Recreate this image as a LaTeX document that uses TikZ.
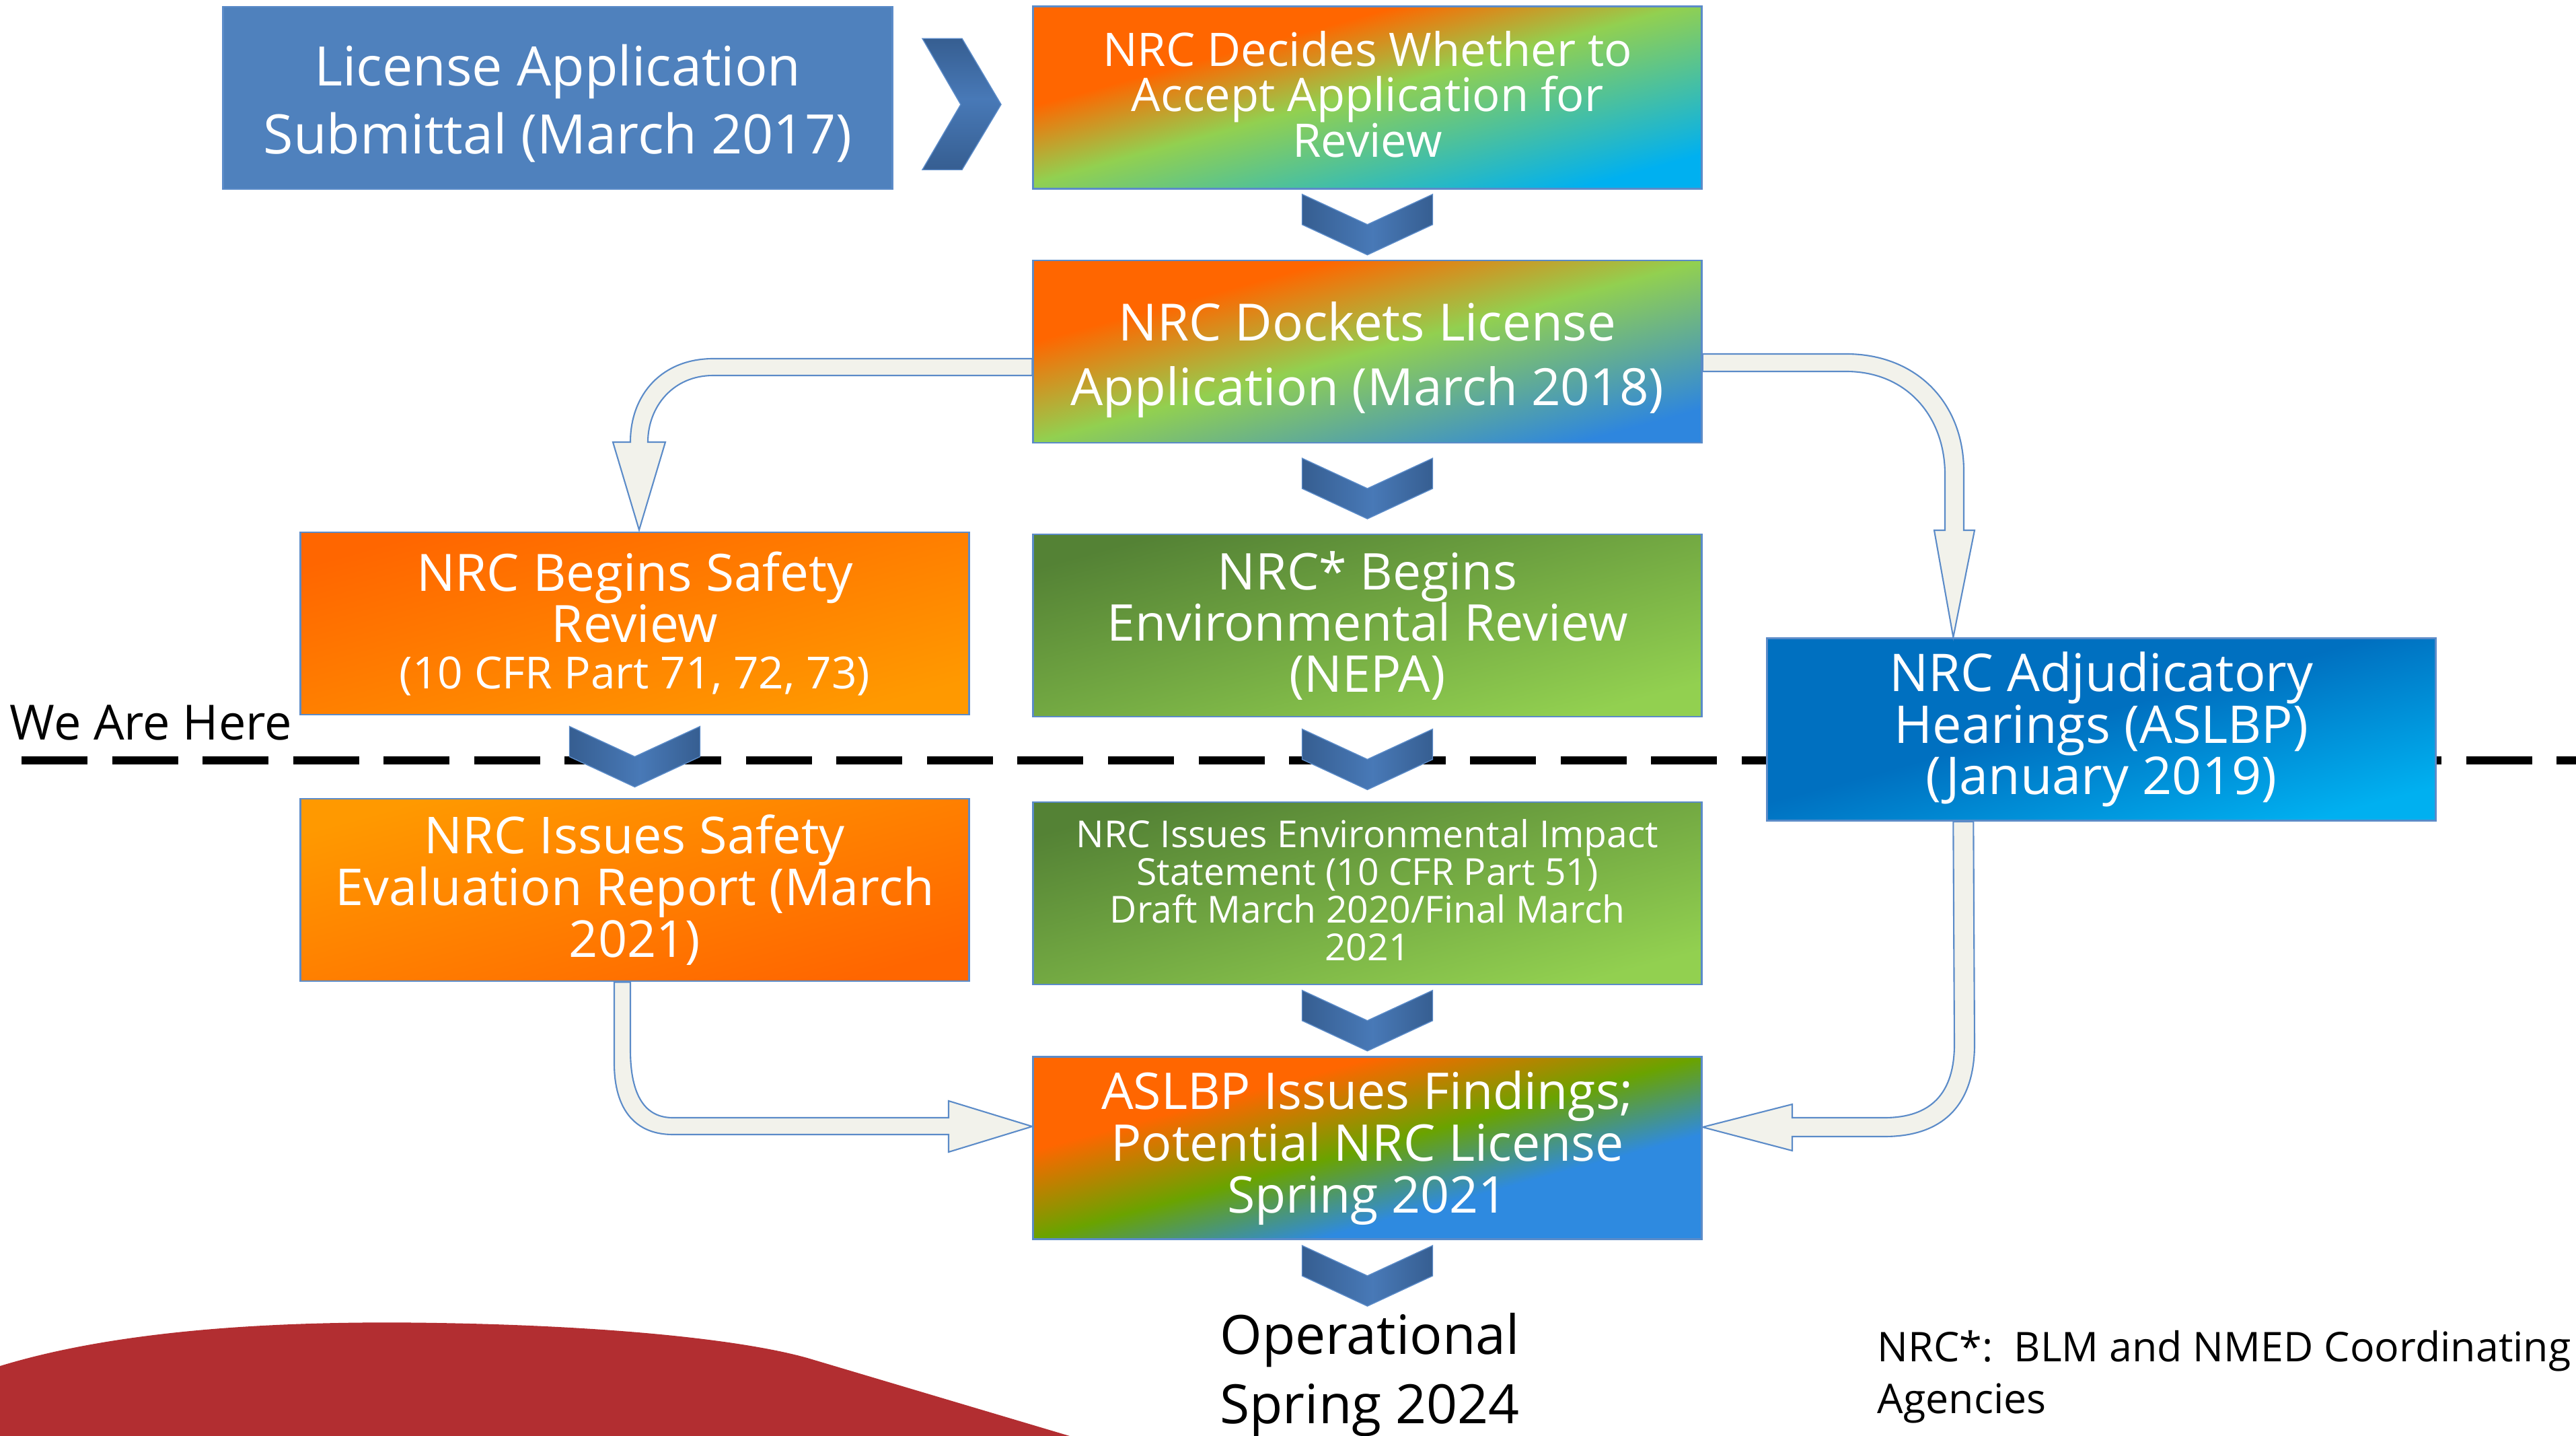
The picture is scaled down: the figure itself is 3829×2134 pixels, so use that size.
\documentclass[tikz,border=0pt]{standalone}
\usepackage{fontspec}
\setmainfont{Open Sans}
\usepackage{tikz}
\usetikzlibrary{calc}

\definecolor{boxblue}{HTML}{4F81BD}
\definecolor{edgeblue}{HTML}{5B8BC8}
\definecolor{arrowfill}{HTML}{F2F2EB}
\definecolor{hotorange}{HTML}{FF6600}
\definecolor{amber}{HTML}{FF9900}
\definecolor{limegreen}{HTML}{92D050}
\definecolor{skycyan}{HTML}{00B0F0}
\definecolor{docblue}{HTML}{2E86DE}
\definecolor{leafgreen}{HTML}{6AA300}
\definecolor{findblue}{HTML}{2E8AE0}
\definecolor{mossgreen}{HTML}{548235}
\definecolor{deepblue}{HTML}{0070C0}
\definecolor{chevdark}{HTML}{365E91}
\definecolor{chevlight}{HTML}{4879B7}
\definecolor{brick}{HTML}{B22E31}

\pgfdeclarehorizontalshading{decideshade}{100bp}{color(0bp)=(hotorange); color(36bp)=(hotorange); color(49bp)=(limegreen); color(75bp)=(skycyan); color(100bp)=(skycyan)}
\pgfdeclarehorizontalshading{dockshade}{100bp}{color(0bp)=(hotorange); color(33bp)=(hotorange); color(50bp)=(limegreen); color(75bp)=(docblue); color(100bp)=(docblue)}
\pgfdeclarehorizontalshading{findshade}{100bp}{color(0bp)=(hotorange); color(35bp)=(hotorange); color(50bp)=(leafgreen); color(63bp)=(findblue); color(100bp)=(findblue)}
\pgfdeclarehorizontalshading{safeshade}{100bp}{color(0bp)=(hotorange); color(25bp)=(hotorange); color(75bp)=(amber); color(100bp)=(amber)}
\pgfdeclarehorizontalshading{sershade}{100bp}{color(0bp)=(amber); color(25bp)=(amber); color(75bp)=(hotorange); color(100bp)=(hotorange)}
\pgfdeclarehorizontalshading{envshade}{100bp}{color(0bp)=(mossgreen); color(25bp)=(mossgreen); color(75bp)=(limegreen); color(100bp)=(limegreen)}
\pgfdeclarehorizontalshading{hearshade}{100bp}{color(0bp)=(deepblue); color(47bp)=(deepblue); color(75bp)=(skycyan); color(100bp)=(skycyan)}
\pgfdeclarehorizontalshading{chevshade}{100bp}{color(0bp)=(chevdark); color(25bp)=(chevdark); color(52bp)=(chevlight); color(75bp)=(chevdark); color(100bp)=(chevdark)}

\begin{document}
\begin{tikzpicture}[x=0.01cm,y=-0.01cm,
    stage/.style={rectangle, minimum width=9.93cm, minimum height=2.71cm, inner sep=0pt, draw=edgeblue, line width=0.8pt, text=white, align=center},
    blend/.style={shading=#1, shading angle=-74.8},
    bendarrow/.style={fill=arrowfill, draw=edgeblue, line width=0.6pt},
    chevron/.style={shading=chevshade, shading angle=0, draw=edgeblue, line width=0.4pt},
    chevronr/.style={shading=chevshade, shading angle=90, draw=edgeblue, line width=0.4pt}]
    \useasboundingbox (0,0) rectangle (3829,2134);

    % Dashed Line
    \draw [line width=0.11cm, dash pattern=on 0.98cm off 0.365cm] (32,1130) -- (3829,1130);
    % Text Node
    \node [anchor=base west, inner sep=0pt, font=\fontsize{20.5}{24}\selectfont] (here) at (14,1100) {We Are Here};

    % Red Shape
    \fill [brick] (0,2134) -- (0,2030) .. controls (180,1975) and (420,1962) .. (650,1966) .. controls (900,1970) and (1100,1990) .. (1200,2018) -- (1590,2134) -- cycle;

    % Boxes
    \node [stage, fill=boxblue, minimum width=9.94cm, font=\fontsize{23}{28.7}\selectfont] (submit) at (829,145.5) {\raisebox{0pt}[\dimexpr\height+0.17cm]{License Application}\\Submittal (March 2017)};
    \node [stage, blend=decideshade, font=\fontsize{19.55}{19.2}\selectfont] (decide) at (2032.5,145) {NRC Decides Whether to\\Accept Application for\\\raisebox{0pt}[\height][\dimexpr\depth+0.1cm]{Review}};
    \node [stage, blend=dockshade, font=\fontsize{21.7}{27.3}\selectfont] (dock) at (2032.5,522.5) {\raisebox{0pt}[\dimexpr\height+0.24cm]{NRC Dockets License}\\Application (March 2018)};
    \node [stage, blend=safeshade, font=\fontsize{21.75}{21.6}\selectfont] (safety) at (943.5,926.5) {NRC Begins Safety\\Review\\[-2pt]{\fontsize{18.7}{19.6}\selectfont (10 CFR Part 71, 72, 73)}};
    \node [stage, blend=envshade, font=\fontsize{21.4}{21.6}\selectfont] (enviro) at (2032.5,929.5) {NRC* Begins\\Environmental Review\\(NEPA)};
    \node [stage, blend=hearshade, font=\fontsize{22}{21.8}\selectfont] (hearing) at (3123.5,1084) {NRC Adjudicatory\\Hearings (ASLBP)\\(January 2019)};
    \node [stage, blend=sershade, font=\fontsize{21.5}{21.9}\selectfont] (ser) at (943.5,1322.5) {NRC Issues Safety\\Evaluation Report (March\\2021)};
    \node [stage, blend=envshade, font=\fontsize{15.7}{15.9}\selectfont] (eis) at (2032.5,1327.5) {NRC Issues Environmental Impact\\Statement (10 CFR Part 51)\\Draft March 2020/Final March\\\raisebox{0pt}[\height][\dimexpr\depth+0.1cm]{2021}};
    \node [stage, blend=findshade, font=\fontsize{21.4}{21.9}\selectfont] (findings) at (2032.5,1706) {ASLBP Issues Findings;\\Potential NRC License\\Spring 2021};

    % Text Node
    \node [anchor=north, inner sep=0pt, align=center, font=\fontsize{22.9}{29.3}\selectfont] (oper) at (2036,1951) {Operational\\Spring 2024};
    % Text Node
    \node [anchor=north west, inner sep=0pt, align=left, font=\fontsize{17.3}{21.9}\selectfont] (note) at (2790,1977) {NRC*:\ \ BLM and NMED Coordinating\\Agencies};

    % Block Arrows
    \draw [bendarrow] ($(dock.west)+(0,10.5)$) -- (1060,533) .. controls (985,533) and (937,585) .. (937,657) -- (911,657) -- ($(safety.north)+(6.5,-2)$) -- (989,657) -- (963,657) .. controls (963,605) and (1000,558) .. (1060,558) -- ($(dock.west)+(0,35.5)$) -- cycle;
    \draw [bendarrow] ($(dock.east)+(0,3.5)$) -- (2744,526) .. controls (2850,526) and (2919,600) .. (2919,700) -- (2919,788) -- (2935,788) -- ($(hearing.north west)+(278,0)$) -- (2875,788) -- (2891,788) -- (2891,705) .. controls (2891,620) and (2835,552) .. (2744,552) -- ($(dock.east)+(0,29.5)$) -- cycle;
    \draw [bendarrow] ($(ser.south)+(-30.5,0)$) -- (913,1580) .. controls (913,1650) and (945,1686) .. (1000,1686) -- (1410,1686) -- (1410,1712) -- ($(findings.west)+(0,-32)$) -- (1410,1636) -- (1410,1661) -- (1000,1661) .. controls (960,1661) and (937,1630) .. (937,1560) -- ($(ser.south)+(-6.5,0)$) -- cycle;
    \draw [bendarrow] ($(hearing.south west)+(278,0)$) -- (2905,1552) .. controls (2905,1625) and (2870,1661) .. (2801,1661) -- (2664,1661) -- (2664,1641) -- ($(findings.east)+(0,-31)$) -- (2664,1710) -- (2664,1689) -- (2801,1689) .. controls (2890,1689) and (2935,1640) .. (2935,1552) -- ($(hearing.south west)+(308,0)$) -- cycle;

    % Chevrons
    \shadedraw [chevronr] ($(submit.east)!0.5!(decide.west)+(-1,10)$) ++(-59,-98) -- ++(59,0) -- ++(58,98) -- ++(-58,97) -- ++(-59,0) -- ++(57,-97) -- cycle;
    \foreach \a/\b in {decide/dock, dock/enviro, enviro/eis, eis/findings, safety/ser}
        \shadedraw [chevron] ($(\a.south)!0.5!(\b.north)$) ++(-97,-45) -- ++(97,45) -- ++(97,-45) -- ++(0,45) -- ++(-97,45) -- ++(-97,-45) -- cycle;
    \shadedraw [chevron] ($(findings.south)+(0,53)$) ++(-97,-45) -- ++(97,45) -- ++(97,-45) -- ++(0,45) -- ++(-97,45) -- ++(-97,-45) -- cycle;
\end{tikzpicture}
\end{document}
